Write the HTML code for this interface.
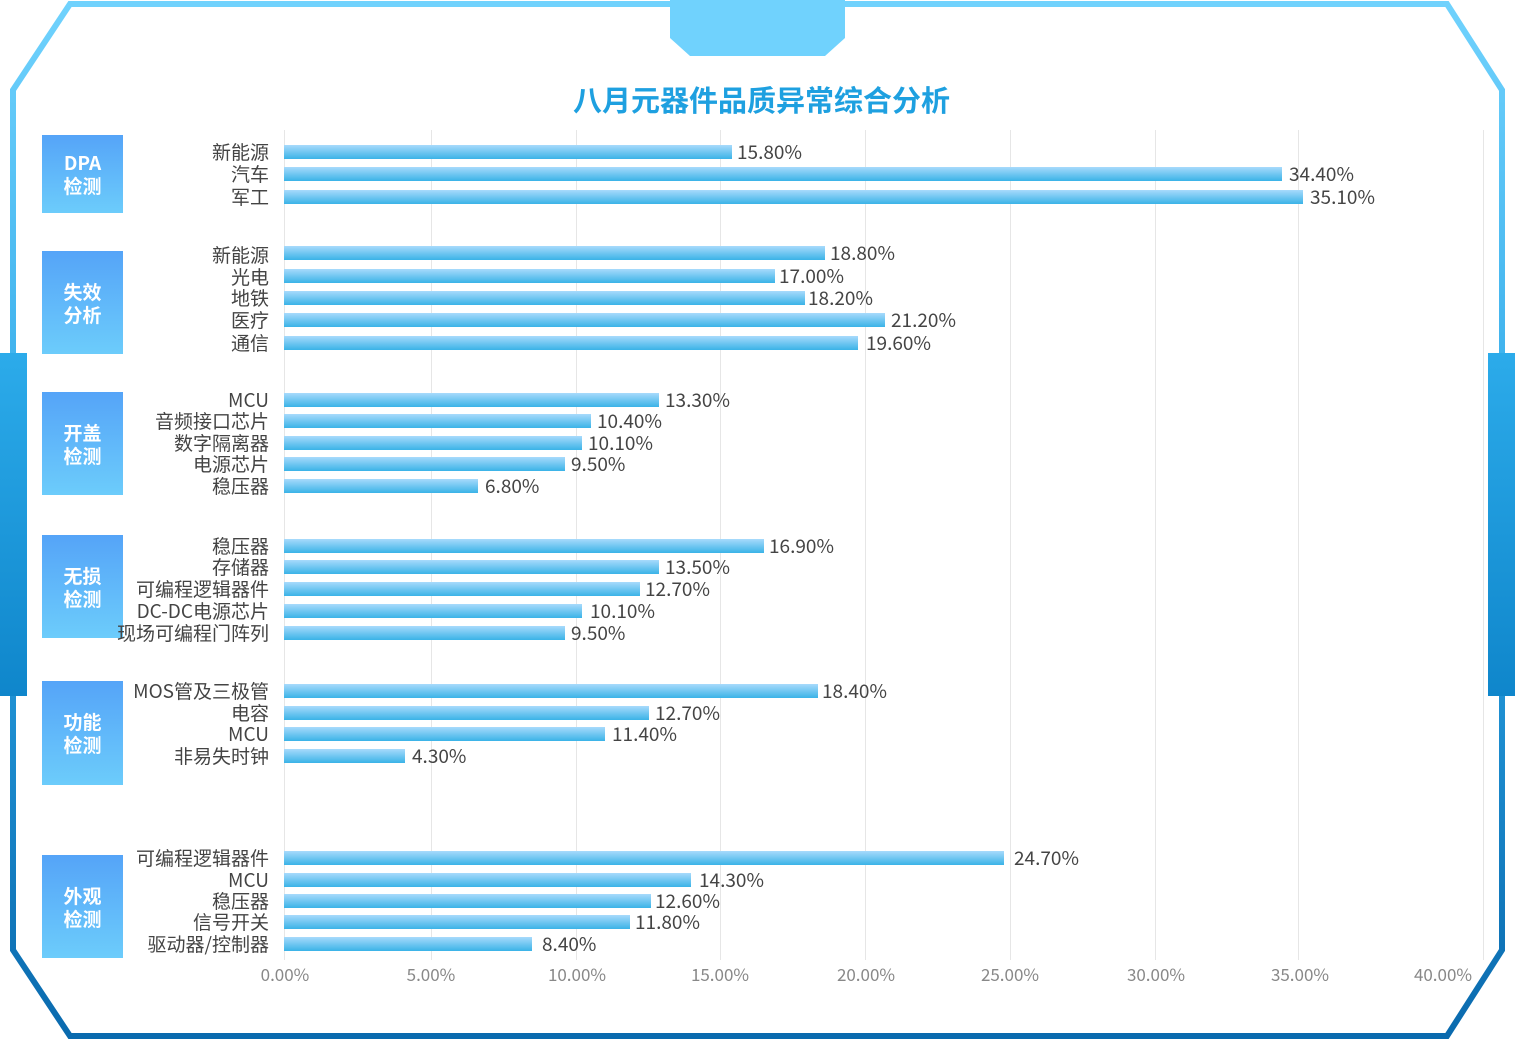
<!DOCTYPE html>
<html><head><meta charset="utf-8"><style>
body{margin:0;width:1523px;height:1041px;position:relative;background:#fff;overflow:hidden;font-family:"Noto Sans CJK SC","Liberation Sans",sans-serif}
.b{position:absolute;left:284px;height:14px;background:linear-gradient(#a8dafc,#3ab3e7)}
.l{position:absolute;right:1254px;font-size:19px;color:#444;line-height:20px;white-space:nowrap;margin-top:0px}
.v{position:absolute;font-size:19px;color:#444;line-height:20px;margin-top:0px}
.c{position:absolute;left:42px;width:81px;background:linear-gradient(#55a4f8,#6cccfb);color:#fff;font-weight:bold;font-size:19px;line-height:23px;display:flex;align-items:center;justify-content:center;text-align:center}
.g{position:absolute;top:130px;height:830px;width:1px;background:#e6e6e6}
.t{position:absolute;top:961px;font-size:17px;color:#888;width:100px;margin-left:-50px;text-align:center}
</style></head><body>
<svg width="1523" height="1041" style="position:absolute;left:0;top:0">
<defs><linearGradient id="fg" x1="0" y1="0" x2="0" y2="1"><stop offset="0" stop-color="#70d2fd"/><stop offset="0.5" stop-color="#2aa5e6"/><stop offset="1" stop-color="#0a6aae"/></linearGradient>
<linearGradient id="tg" x1="0" y1="0" x2="0" y2="1"><stop offset="0" stop-color="#2cabea"/><stop offset="1" stop-color="#0f86cb"/></linearGradient></defs>
<path d="M70,4 L1447,4 L1502,90 L1502,950 L1447,1036 L70,1036 L13,950 L13,90 Z" fill="none" stroke="url(#fg)" stroke-width="6"/>
<path d="M670,0 L845,0 L845,38 L825,56 L690,56 L670,38 Z" fill="#70d2fd"/>
<rect x="0" y="353" width="27" height="343" fill="url(#tg)"/>
<rect x="1488" y="353" width="27" height="343" fill="url(#tg)"/>
</svg>
<div style="position:absolute;top:78px;left:0;width:1523px;text-align:center;font-size:29px;font-weight:bold;color:#1ea0e0">八月元器件品质异常综合分析</div>
<div class="g" style="left:284px"></div><div class="g" style="left:431px"></div><div class="g" style="left:576px"></div><div class="g" style="left:720px"></div><div class="g" style="left:865px"></div><div class="g" style="left:1010px"></div><div class="g" style="left:1155px"></div><div class="g" style="left:1298px"></div><div class="g" style="left:1483px"></div>
<div class="t" style="left:285px">0.00%</div><div class="t" style="left:431px">5.00%</div><div class="t" style="left:577px">10.00%</div><div class="t" style="left:720px">15.00%</div><div class="t" style="left:866px">20.00%</div><div class="t" style="left:1010px">25.00%</div><div class="t" style="left:1156px">30.00%</div><div class="t" style="left:1300px">35.00%</div><div class="t" style="left:1443px">40.00%</div>
<div class="c" style="top:135px;height:78px">DPA<br>检测</div>
<div class="c" style="top:251px;height:103px">失效<br>分析</div>
<div class="c" style="top:392px;height:103px">开盖<br>检测</div>
<div class="c" style="top:535px;height:103px">无损<br>检测</div>
<div class="c" style="top:681px;height:104px">功能<br>检测</div>
<div class="c" style="top:855px;height:103px">外观<br>检测</div>
<div class="l" style="top:142px">新能源</div><div class="b" style="top:145px;width:448px"></div><div class="v" style="top:142px;left:737px">15.80%</div>
<div class="l" style="top:164px">汽车</div><div class="b" style="top:167px;width:998px"></div><div class="v" style="top:164px;left:1289px">34.40%</div>
<div class="l" style="top:187px">军工</div><div class="b" style="top:190px;width:1019px"></div><div class="v" style="top:187px;left:1310px">35.10%</div>
<div class="l" style="top:245px">新能源</div><div class="b" style="top:246px;width:541px"></div><div class="v" style="top:243px;left:830px">18.80%</div>
<div class="l" style="top:267px">光电</div><div class="b" style="top:269px;width:491px"></div><div class="v" style="top:266px;left:779px">17.00%</div>
<div class="l" style="top:288px">地铁</div><div class="b" style="top:291px;width:521px"></div><div class="v" style="top:288px;left:808px">18.20%</div>
<div class="l" style="top:310px">医疗</div><div class="b" style="top:313px;width:601px"></div><div class="v" style="top:310px;left:891px">21.20%</div>
<div class="l" style="top:333px">通信</div><div class="b" style="top:336px;width:574px"></div><div class="v" style="top:333px;left:866px">19.60%</div>
<div class="l" style="top:390px">MCU</div><div class="b" style="top:393px;width:375px"></div><div class="v" style="top:390px;left:665px">13.30%</div>
<div class="l" style="top:411px">音频接口芯片</div><div class="b" style="top:414px;width:307px"></div><div class="v" style="top:411px;left:597px">10.40%</div>
<div class="l" style="top:433px">数字隔离器</div><div class="b" style="top:436px;width:298px"></div><div class="v" style="top:433px;left:588px">10.10%</div>
<div class="l" style="top:454px">电源芯片</div><div class="b" style="top:457px;width:281px"></div><div class="v" style="top:454px;left:571px">9.50%</div>
<div class="l" style="top:476px">稳压器</div><div class="b" style="top:479px;width:194px"></div><div class="v" style="top:476px;left:485px">6.80%</div>
<div class="l" style="top:536px">稳压器</div><div class="b" style="top:539px;width:480px"></div><div class="v" style="top:536px;left:769px">16.90%</div>
<div class="l" style="top:557px">存储器</div><div class="b" style="top:560px;width:375px"></div><div class="v" style="top:557px;left:665px">13.50%</div>
<div class="l" style="top:579px">可编程逻辑器件</div><div class="b" style="top:582px;width:356px"></div><div class="v" style="top:579px;left:645px">12.70%</div>
<div class="l" style="top:601px">DC-DC电源芯片</div><div class="b" style="top:604px;width:298px"></div><div class="v" style="top:601px;left:590px">10.10%</div>
<div class="l" style="top:623px">现场可编程门阵列</div><div class="b" style="top:626px;width:281px"></div><div class="v" style="top:623px;left:571px">9.50%</div>
<div class="l" style="top:681px">MOS管及三极管</div><div class="b" style="top:684px;width:534px"></div><div class="v" style="top:681px;left:822px">18.40%</div>
<div class="l" style="top:703px">电容</div><div class="b" style="top:706px;width:365px"></div><div class="v" style="top:703px;left:655px">12.70%</div>
<div class="l" style="top:724px">MCU</div><div class="b" style="top:727px;width:321px"></div><div class="v" style="top:724px;left:612px">11.40%</div>
<div class="l" style="top:746px">非易失时钟</div><div class="b" style="top:749px;width:121px"></div><div class="v" style="top:746px;left:412px">4.30%</div>
<div class="l" style="top:848px">可编程逻辑器件</div><div class="b" style="top:851px;width:720px"></div><div class="v" style="top:848px;left:1014px">24.70%</div>
<div class="l" style="top:870px">MCU</div><div class="b" style="top:873px;width:407px"></div><div class="v" style="top:870px;left:699px">14.30%</div>
<div class="l" style="top:891px">稳压器</div><div class="b" style="top:894px;width:367px"></div><div class="v" style="top:891px;left:655px">12.60%</div>
<div class="l" style="top:912px">信号开关</div><div class="b" style="top:915px;width:346px"></div><div class="v" style="top:912px;left:635px">11.80%</div>
<div class="l" style="top:934px">驱动器/控制器</div><div class="b" style="top:937px;width:248px"></div><div class="v" style="top:934px;left:542px">8.40%</div>
</body></html>
